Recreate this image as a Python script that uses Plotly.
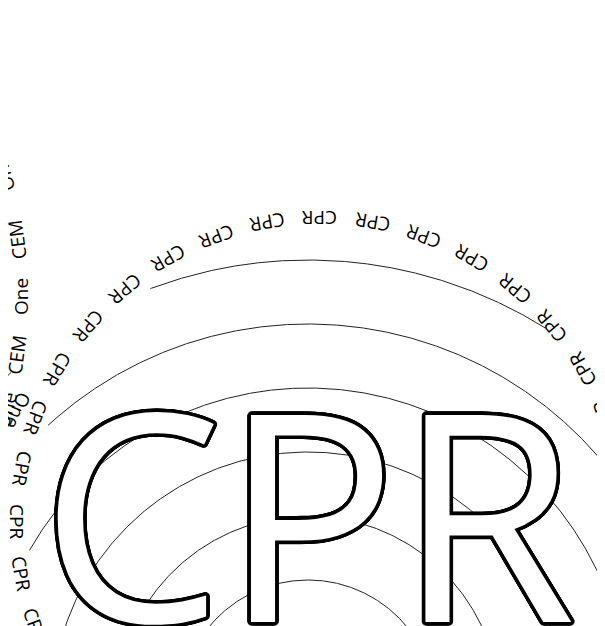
import numpy as np
import plotly.graph_objects as go

# ---------------- data ----------------
# concentric ring outlines: radius and angular extent (degrees, counter-clockwise from east)
arc_radius = [128, 192, 256, 320, 384, 448, 448]
arc_start = [0, 0, 0, -30, -30, 58.0, 131.5]
arc_end = [360, 360, 360, 150.5, 132.6, 110.6, 160]

center_text = "CPR"

ring_label = "CPR"
ring_label_angles = [-20, -10, 0, 10, 20, 30, 40, 50, 60, 70, 80, 90, 100,
                     110, 120, 130, 140, 150, 160, 170, 180, 190, 200]

side_labels = ["One", "CEM", "One", "CEM", "One"]
side_label_angles = [16.0, 7.4, 0.0, -7.3, -14.6]
side_flipped = [False, False, False, False, True]

# ---------------- geometry / style ----------------
W, H = 605, 626
X0, Y0 = -300, 74            # axis range lower bounds (1 unit = 1 px)
LABEL_C = (12, 187)          # centre of the CPR label ring
LABEL_R = 303
SIDE_C = (-732, 411)         # centre of the side label ring
SIDE_R = 450
BIG_C = (0, 199)             # anchor of the big centre text

fig = go.Figure()

for r, a0, a1 in zip(arc_radius, arc_start, arc_end):
    t = np.radians(np.linspace(a0, a1, 720))
    fig.add_trace(go.Scatter(x=r * np.cos(t), y=r * np.sin(t), mode="lines",
                             line=dict(color="#222222", width=1),
                             hoverinfo="skip", showlegend=False))


def rot(theta):
    a = (270 - theta) % 360
    return a - 360 if a > 180 else a


small_font = dict(family="Open Sans", size=19, color="#000")
annotations = []
for th in ring_label_angles:
    t = np.radians(th)
    annotations.append(dict(
        x=LABEL_C[0] + LABEL_R * np.cos(t), y=LABEL_C[1] + LABEL_R * np.sin(t),
        xref="x", yref="y", text=ring_label, showarrow=False,
        textangle=rot(th), xanchor="center", yanchor="middle", font=small_font))

for txt, th, fl in zip(side_labels, side_label_angles, side_flipped):
    t = np.radians(th)
    ax_, ay_ = SIDE_C[0] + SIDE_R * np.cos(t), SIDE_C[1] + SIDE_R * np.sin(t)
    annotations.append(dict(
        x=ax_, y=ay_, xref="x", yref="y", text=txt, showarrow=False, xshift=-5,
        textangle=rot(th), xanchor="center", yanchor="middle", font=small_font))
    if fl:
        annotations.append(dict(
            x=ax_, y=ay_, xref="x", yref="y", text=txt, showarrow=False, xshift=6,
            textangle=rot(th + 180) + 8, xanchor="center", yanchor="middle",
            font=small_font))

# outline for the big centre text via text-shadow ring
shadows = []
for rad in (1.2, 2.4, 3.6):
    for k in range(24):
        a = 2 * np.pi * k / 24
        shadows.append(f"{rad*np.cos(a):.2f}px {rad*np.sin(a):.2f}px 0 #000")
shadow = ", ".join(shadows)

annotations.append(dict(
    x=BIG_C[0], y=BIG_C[1], xref="x", yref="y", text=center_text,
    showarrow=False, xanchor="center", yanchor="middle",
    font=dict(family="Open Sans", size=290, color="#ffffff", shadow=shadow)))

fig.update_layout(
    width=W, height=H, margin=dict(l=0, r=0, t=0, b=0),
    paper_bgcolor="white", plot_bgcolor="white",
    xaxis=dict(range=[X0, X0 + W], visible=False, fixedrange=True),
    yaxis=dict(range=[Y0, Y0 + H], visible=False, fixedrange=True),
    annotations=annotations, showlegend=False)

fig.write_html("out.html")
